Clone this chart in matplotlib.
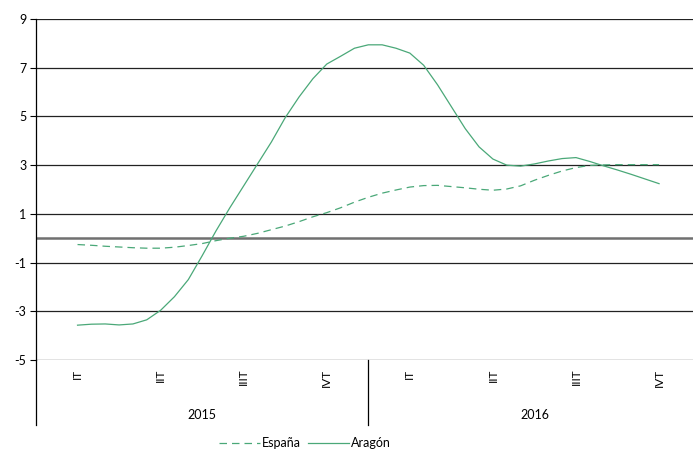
import matplotlib.pyplot as plt
from matplotlib.lines import Line2D

plt.rcParams['font.family'] = ['Lato', 'DejaVu Sans']
plt.rcParams['axes.unicode_minus'] = False

quarters = ["IT", "IIT", "IIIT", "IVT", "IT", "IIT", "IIIT", "IVT"]
years = ["2015", "2016"]

# values every half month (6 per quarter), IT 2015 .. IVT 2016
espana = [-0.26, -0.29, -0.33, -0.36, -0.39, -0.41, -0.41, -0.37, -0.30, -0.22,
          -0.10, 0.00, 0.08, 0.20, 0.35, 0.50, 0.68, 0.88, 1.05, 1.25,
          1.48, 1.68, 1.85, 1.98, 2.10, 2.16, 2.17, 2.12, 2.07, 2.01,
          1.97, 2.02, 2.15, 2.38, 2.58, 2.76, 2.90, 2.99, 3.01, 3.02,
          3.02, 3.02, 3.02]
aragon = [-3.57, -3.53, -3.52, -3.56, -3.52, -3.35, -2.96, -2.40, -1.70, -0.72,
          0.30, 1.25, 2.15, 3.05, 3.95, 4.95, 5.80, 6.55, 7.15, 7.47,
          7.80, 7.94, 7.94, 7.80, 7.60, 7.10, 6.30, 5.40, 4.50, 3.75,
          3.25, 3.00, 2.96, 3.05, 3.17, 3.27, 3.31, 3.15, 2.97, 2.80,
          2.62, 2.43, 2.24]
x = [i / 6 for i in range(len(aragon))]

green = "#4aa878"

fig = plt.figure(figsize=(6.93, 4.5), dpi=100)
W, H = 693, 450
left, right, top, bottom = 36, 693, 19, 360
ax = fig.add_axes([left / W, 1 - bottom / H, (right - left) / W, (bottom - top) / H])

ax.plot(x, espana, color=green, lw=0.9, dashes=(6, 4), label="España")
ax.plot(x, aragon, color=green, lw=0.9, label="Aragón")

ax.set_ylim(-5, 9)
ax.set_yticks(range(-5, 10, 2))
ax.set_xlim(-0.5, 7.5 - (700.6 - 693) / 83.1)

for v in range(-5, 10, 2):
    ax.axhline(v, color="#222222", lw=0.9, zorder=0)
ax.axhline(0, color="#707070", lw=1.8, zorder=0)

for s in ["top", "right", "bottom"]:
    ax.spines[s].set_visible(False)
ax.spines["left"].set_linewidth(0.9)
ax.tick_params(axis="y", length=4, width=0.8, pad=3, labelsize=9)
ax.set_xticks([])

# category axis below the plot
for i, q in enumerate(quarters):
    ax.text(i, -5.35, q, rotation=90, ha="center", va="top", fontsize=8.5)
for j, y in enumerate(years):
    ax.text(1.5 + 4 * j, -7.25, y, ha="center", va="center", fontsize=9)
for xs in [-0.5, 3.5]:
    ax.add_line(Line2D([xs, xs], [-5, -7.67], color="black", lw=0.9, clip_on=False))

fig.legend(loc="center", bbox_to_anchor=(0.44, 1 - 443 / H), ncol=2, frameon=False,
           fontsize=9, handlelength=3.3, columnspacing=0.5, handletextpad=0.2)

fig.savefig("out.png", dpi=100)
